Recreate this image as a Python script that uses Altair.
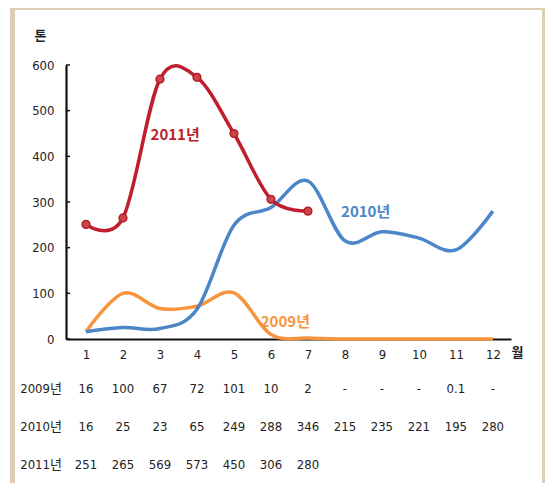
import altair as alt
import pandas as pd

months = list(range(1, 13))
years = ["2009", "2010", "2011"]
v2009 = [16, 100, 67, 72, 101, 10, 2, 0, 0, 0, 0.1, 0]
v2010 = [16, 25, 23, 65, 249, 288, 346, 215, 235, 221, 195, 280]
v2011 = [251, 265, 569, 573, 450, 306, 280]
t2009 = ["16", "100", "67", "72", "101", "10", "2", "-", "-", "-", "0.1", "-"]
t2010 = ["16", "25", "23", "65", "249", "288", "346", "215", "235", "221", "195", "280"]
t2011 = ["251", "265", "569", "573", "450", "306", "280"]
row_labels = ["2009년", "2010년", "2011년"]
y_ticks = [0, 100, 200, 300, 400, 500, 600]

# series annotations (month, value, text)
ann_month = [6.39, 8.56, 3.41]
ann_value = [37, 278, 447]
ann_text = ["2009년", "2010년", "2011년"]

colors = ["#f7953f", "#4a86c8", "#be1e2d"]
FONT = "Liberation Sans Narrow, DejaVu Sans Condensed, Noto Sans CJK KR, sans-serif"
KFONT = "Noto Sans CJK KR, Liberation Sans Narrow, sans-serif"

rows = []
for y, vals in zip(years, [v2009, v2010, v2011]):
    for m, v in zip(months, vals):
        rows.append({"year": y, "month": m, "value": v})
df = pd.DataFrame(rows)
pts = df[df.year == "2011"]

trows = []
for i, (y, txts) in enumerate(zip(years, [t2009, t2010, t2011])):
    for m, t in zip(months, txts):
        trows.append({"row": i, "month": m, "txt": t})
tdf = pd.DataFrame(trows)
ldf = pd.DataFrame({"row": [0, 1, 2], "label": row_labels, "month": [0.35] * 3})
adf = pd.DataFrame({"month": ann_month, "value": ann_value, "txt": ann_text, "year": years})
tickdf = pd.DataFrame({"v": y_ticks})

xs = alt.Scale(domain=[0.46, 12.49], nice=False, zero=False)
ys = alt.Scale(domain=[0, 600], nice=False)

xaxis = alt.Axis(values=months, ticks=False, grid=False, domainColor="#111", domainWidth=2.2,
                 labelPadding=9, labelFontSize=13, labelFont=FONT, labelColor="#222",
                 title="월", titleAngle=0, titleX=451, titleY=13, titleBaseline="middle",
                 titleFont=KFONT, titleFontSize=13, titleFontWeight="bold", titleColor="#222")
yaxis = alt.Axis(values=y_ticks, ticks=False, grid=False, domainColor="#111", domainWidth=2.2,
                 labelPadding=12, labelFontSize=13, labelFont=FONT, labelColor="#222",
                 title="톤", titleAngle=0, titleX=-26, titleY=-30, titleBaseline="middle",
                 titleAlign="center", titleFont=KFONT, titleFontSize=13, titleFontWeight="bold",
                 titleColor="#222")

cscale = alt.Scale(domain=years, range=colors)

lines = alt.Chart(df).mark_line(interpolate="cardinal", strokeWidth=3.5, clip=False).encode(
    x=alt.X("month:Q", scale=xs, axis=xaxis),
    y=alt.Y("value:Q", scale=ys, axis=yaxis),
    color=alt.Color("year:N", scale=cscale, legend=None),
)
points = alt.Chart(pts).mark_point(filled=True, size=60, fill="#c9464c", stroke="#b71c26",
                                   strokeWidth=1.5, opacity=1).encode(
    x=alt.X("month:Q", scale=xs),
    y=alt.Y("value:Q", scale=ys),
)
ann = alt.Chart(adf).mark_text(fontSize=15, fontWeight="bold", font=KFONT, baseline="middle").encode(
    x=alt.X("month:Q", scale=xs),
    y=alt.Y("value:Q", scale=ys),
    text="txt:N",
    color=alt.Color("year:N", scale=cscale, legend=None),
)
yt = alt.Chart(tickdf).mark_rule(color="#111", strokeWidth=1.5).encode(
    x=alt.value(0), x2=alt.value(4),
    y=alt.Y("v:Q", scale=ys),
)
main = alt.layer(lines, yt, points, ann)

rowscale = alt.Scale(domain=[0, 2], range=[324, 400])
table = alt.Chart(tdf).mark_text(fontSize=13, font=FONT, color="#222", baseline="middle").encode(
    x=alt.X("month:Q", scale=xs),
    y=alt.Y("row:Q", scale=rowscale, axis=None),
    text="txt:N",
)
rlab = alt.Chart(ldf).mark_text(fontSize=13, font=FONT, color="#222", baseline="middle",
                                align="right").encode(
    x=alt.X("month:Q", scale=xs),
    y=alt.Y("row:Q", scale=rowscale, axis=None),
    text="label:N",
)
tab = alt.layer(table, rlab)

frame_color = "#dccdb4"
fd = alt.Data(values=[{}])
left = alt.Chart(fd).mark_rect(color=frame_color).encode(
    x=alt.value(-56), x2=alt.value(-51), y=alt.value(-60), y2=alt.value(430))
top = alt.Chart(fd).mark_rect(color=frame_color).encode(
    x=alt.value(-56), x2=alt.value(479), y=alt.value(-60), y2=alt.value(-55))
right = alt.Chart(fd).mark_rect(color=frame_color).encode(
    x=alt.value(476), x2=alt.value(479), y=alt.value(-60), y2=alt.value(430))
frame = alt.layer(left, top, right)

chart = alt.layer(frame, main, tab).resolve_scale(y="independent").properties(
    width=445, height=274,
    autosize=alt.AutoSizeParams(type="none"),
    padding={"left": 58, "top": 57, "right": 34, "bottom": 144},
    background="white",
).configure_view(stroke=None)

chart.save("out.html", embed_options={"renderer": "svg", "actions": False})
